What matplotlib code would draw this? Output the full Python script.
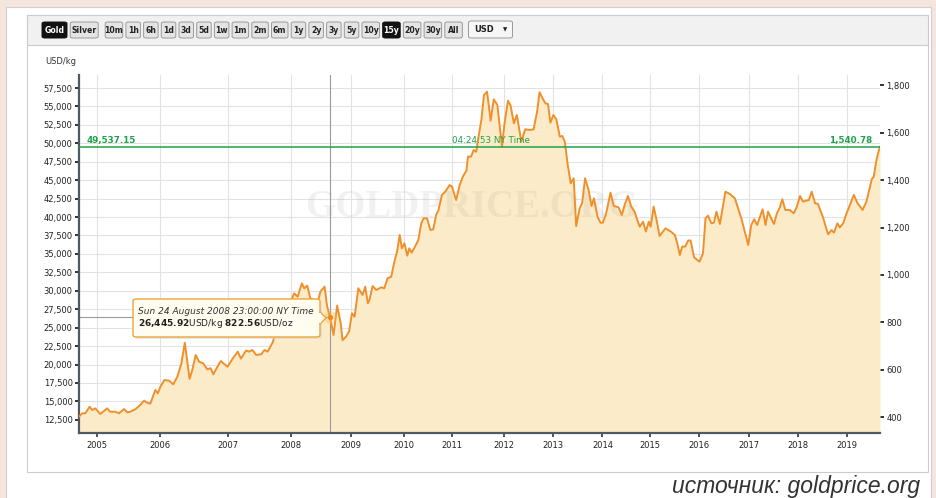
import numpy as np
import matplotlib
matplotlib.use("Agg")
import matplotlib.pyplot as plt
from matplotlib.patches import Rectangle, FancyBboxPatch, Polygon

# gold price, USD/kg, x in decimal years
dates = [2004.71, 2004.76, 2004.81, 2004.88, 2004.92, 2004.97,
         2005.05, 2005.16, 2005.21, 2005.29, 2005.35, 2005.43, 2005.48, 2005.53, 2005.61, 2005.69,
         2005.75, 2005.80, 2005.85, 2005.93, 2005.97,
         2006.01, 2006.07, 2006.14, 2006.20, 2006.26, 2006.32, 2006.37, 2006.44, 2006.48, 2006.53,
         2006.58, 2006.64, 2006.70, 2006.75, 2006.79, 2006.85, 2006.90,
         2007.00, 2007.08, 2007.16, 2007.21, 2007.29, 2007.34, 2007.39, 2007.45, 2007.53, 2007.58,
         2007.63, 2007.71, 2007.76, 2007.81, 2007.89, 2007.96,
         2008.05, 2008.11, 2008.18, 2008.22, 2008.27, 2008.32, 2008.39, 2008.44, 2008.49, 2008.56,
         2008.60, 2008.65, 2008.71, 2008.77, 2008.83, 2008.86, 2008.92, 2008.97,
         2009.02, 2009.07, 2009.14, 2009.16, 2009.22, 2009.27, 2009.32, 2009.35, 2009.41, 2009.48,
         2009.57, 2009.63, 2009.69, 2009.76, 2009.82, 2009.87, 2009.92, 2009.96,
         2010.01, 2010.07, 2010.11, 2010.16, 2010.23, 2010.30, 2010.36, 2010.41, 2010.48, 2010.55,
         2010.61, 2010.67, 2010.72, 2010.79, 2010.86, 2010.95,
         2011.00, 2011.03, 2011.08, 2011.15, 2011.21, 2011.28, 2011.31, 2011.37, 2011.42, 2011.47,
         2011.51, 2011.57, 2011.62, 2011.68, 2011.75, 2011.81, 2011.88, 2011.97,
         2012.02, 2012.09, 2012.14, 2012.21, 2012.27, 2012.36, 2012.44, 2012.53, 2012.61, 2012.68,
         2012.73, 2012.80, 2012.85, 2012.90, 2012.95,
         2013.01, 2013.07, 2013.14, 2013.19, 2013.24, 2013.30, 2013.36, 2013.42, 2013.47, 2013.54,
         2013.59, 2013.65, 2013.72, 2013.78, 2013.83, 2013.90, 2013.96,
         2014.01, 2014.08, 2014.17, 2014.24, 2014.34, 2014.41, 2014.47, 2014.54, 2014.61, 2014.68,
         2014.75, 2014.79, 2014.86, 2014.92, 2014.98,
         2015.02, 2015.08, 2015.14, 2015.20, 2015.32, 2015.43, 2015.51, 2015.56, 2015.61, 2015.66,
         2015.72, 2015.78, 2015.83, 2015.90,
         2016.01, 2016.08, 2016.13, 2016.18, 2016.25, 2016.30, 2016.35, 2016.42, 2016.53, 2016.62,
         2016.72, 2016.85, 2016.99,
         2017.05, 2017.11, 2017.17, 2017.28, 2017.34, 2017.39, 2017.51, 2017.57, 2017.63, 2017.68,
         2017.74, 2017.83, 2017.91, 2017.97,
         2018.04, 2018.10, 2018.17, 2018.22, 2018.28, 2018.35, 2018.41, 2018.52, 2018.57, 2018.62,
         2018.69, 2018.74, 2018.81, 2018.86, 2018.93,
         2019.00, 2019.07, 2019.15, 2019.22, 2019.33, 2019.41, 2019.46, 2019.52, 2019.56, 2019.62,
         2019.65, 2019.69]
usd_kg = [12930, 13390, 13390, 14280, 13830, 14060,
          13290, 14060, 13600, 13600, 13390, 13970, 13520, 13600, 13930, 14520,
          15100, 14830, 14700, 16550, 16100,
          17000, 17900, 17810, 17320, 18350, 20170, 22960, 18050, 19260, 21300,
          20390, 20170, 19360, 19500, 18680, 19700, 20480,
          19700, 20800, 21750, 20800, 21900, 21750, 21970, 21300, 21400, 21970,
          21750, 23000, 24500, 25600, 27000, 27800,
          29660, 29200, 31010, 30330, 30700, 28980, 28750, 28300, 29890, 30570,
          28000, 26445.92, 24000, 28000, 25590, 23300, 23800, 24500,
          26950, 26490, 30340, 30110, 29430, 30560, 28300, 28750, 30650, 30110,
          30475, 30340, 31690, 31900, 33950, 35300, 37570, 35760,
          36440, 34760, 35760, 35170, 35980, 36890, 39150, 39830, 39830, 38250,
          38340, 40280, 40960, 42990, 43440, 44350,
          44120, 43440, 42310, 44350, 45480, 46290, 48190, 48190, 49090, 48860,
          50680, 53160, 56550, 57000, 53070, 55970, 55190, 49540,
          52710, 55780, 55190, 52710, 53840, 50220, 51900, 51810, 51900, 54290,
          56920, 55970, 55420, 55330, 52800,
          53840, 53250, 50900, 50990, 50220, 47060, 44580, 45260, 38790, 41190,
          41870, 45260, 43670, 41500, 42540, 40050, 39240,
          39240, 40510, 43310, 41500, 41320, 40280, 41640, 42860, 41410, 40730,
          39370, 38690, 39370, 38030, 39370,
          38690, 41410, 39600, 37430, 38470, 38030, 37570, 36440, 34850, 36000,
          36000, 36820, 36820, 34540,
          33950, 35080, 39830, 40190, 39150, 39240, 40730, 39060, 43440, 43130,
          42540, 39830, 36210,
          38920, 39700, 38920, 41050, 38920, 40730, 39060, 40510, 41320, 42410,
          40960, 40960, 40510, 41320,
          42860, 42090, 42230, 42300, 43440, 41870, 41780, 39830, 38690, 37660,
          38240, 37880, 39150, 38600, 39150,
          40510, 41640, 43000, 41960, 40960, 42090, 43440, 45120, 45480, 47830,
          48640, 49537.15]

years = list(range(2005, 2020))
left_ticks = list(range(12500, 57501, 2500))
right_ticks = list(range(400, 1801, 200))
last_kg = 49537.15
last_oz = 1540.78
hover_date = 2008.65
hover_kg = 26445.92
hover_oz = 822.56
KG_PER_OZ = 32.1507466

buttons = ["Gold", "Silver", "10m", "1h", "6h", "1d", "3d", "5d", "1w", "1m", "2m", "6m",
           "1y", "2y", "3y", "5y", "10y", "15y", "20y", "30y", "All"]
active = ["Gold", "15y"]

W, H = 937, 498
fig = plt.figure(figsize=(W / 100, H / 100), dpi=100, facecolor="#f4e6dc")


def box(x, y, w, h):
    # pixel box (top-left origin) -> figure fraction
    return (x / W, 1 - (y + h) / H, w / W, h / H)


def rect(x, y, w, h, **kw):
    l, b, ww, hh = box(x, y, w, h)
    fig.patches.append(Rectangle((l, b), ww, hh, transform=fig.transFigure, zorder=-5, **kw))


# white card + inner panel + toolbar
rect(6, 7, 925, 495, fc="white", ec="#cfcfcf", lw=0.8)
rect(27, 15, 901, 457, fc="white", ec="#cccccc", lw=0.8)
rect(27, 15, 901, 30, fc="#f1f1f1", ec="#cccccc", lw=0.8)

# toolbar buttons
bx = 42
for b in buttons:
    if b == "Gold":
        w = 25
    elif b == "Silver":
        w = 28
    elif len(b) == 3:
        w = 17.5
    else:
        w = 16.5 if "m" in b else 14.5
    on = b in active
    l, bt, ww, hh = box(bx, 22, w, 16)
    fig.patches.append(FancyBboxPatch((l, bt), ww, hh, boxstyle="round,pad=0,rounding_size=0.003",
                                      transform=fig.transFigure, zorder=-4,
                                      fc="#111111" if on else "#e4e4e4",
                                      ec="#111111" if on else "#9a9a9a", lw=0.7))
    fig.text(l + ww / 2, bt + hh / 2, b, ha="center", va="center", fontsize=5.6,
             fontweight="bold", color="white" if on else "#222222")
    bx += w + (7 if b == "Silver" else 3.2)
l, bt, ww, hh = box(bx + 3, 21, 44, 17)
fig.patches.append(FancyBboxPatch((l, bt), ww, hh, boxstyle="round,pad=0,rounding_size=0.003",
                                  transform=fig.transFigure, zorder=-4,
                                  fc="#f6f6f6", ec="#9a9a9a", lw=0.7))
fig.text(l + 0.006, bt + hh / 2, "USD", ha="left", va="center", fontsize=6,
         fontweight="bold", color="#222222")
fig.text(l + ww - 0.008, bt + hh / 2, "▼", ha="center", va="center", fontsize=4, color="#222222")

fig.text(45 / W, 1 - 62 / H, "USD/kg", fontsize=6, color="#333333", va="center")

# main axes; x axis is ordinal (uneven year widths like on the site)
ax = fig.add_axes(box(79, 75, 801, 358))
ax.patch.set_alpha(0)
knot_years = [2004] + years + [2020]
knot_pos = [35.5, 98, 160.5, 228.3, 291.8, 351.5, 404.5, 452.5, 504, 553.3, 602.8,
            650, 699.3, 749, 798.3, 846.7, 895.1]


def fwd(x):
    return np.interp(x, knot_years, knot_pos)


def inv(p):
    return np.interp(p, knot_pos, knot_years)


ax.set_xscale("function", functions=(fwd, inv))
ax.set_xlim(dates[0], dates[-1])
ymin, ymax = 10718, 59263
ax.set_ylim(ymin, ymax)

ax.set_xticks(years)
ax.set_xticklabels([str(y) for y in years])
ax.xaxis.set_minor_locator(matplotlib.ticker.NullLocator())
ax.set_yticks(left_ticks)
ax.set_yticklabels([f"{v:,}" for v in left_ticks])
ax.grid(True, color="#e2e2e2", lw=0.8)
ax.set_axisbelow(True)

ax.fill_between(dates, usd_kg, ymin, color="#fcebc8", lw=0, zorder=1)
ax.text(0.49, 0.63, "GOLDPRICE.ORG", transform=ax.transAxes, ha="center", va="center",
        fontsize=28, fontweight="bold", family="Liberation Serif", color="#888888",
        alpha=0.11, zorder=2)
ax.plot(dates, usd_kg, color="#f0902a", lw=1.4, zorder=3)

# current price line
green = "#1fa34a"
ax.axhline(last_kg, color=green, lw=1.1, zorder=4)
tr = ax.get_yaxis_transform()
ax.text(0.01, last_kg + 250, f"{last_kg:,.2f}", transform=tr, color=green, fontsize=6.3,
        fontweight="bold", va="bottom", zorder=5)
ax.text(0.466, last_kg + 250, "04:24:53 NY Time", transform=tr, color=green, fontsize=6.3,
        va="bottom", zorder=5)
ax.text(0.99, last_kg + 250, f"{last_oz:,.2f}", transform=tr, color=green, fontsize=6.3,
        fontweight="bold", va="bottom", ha="right", zorder=5)

# crosshair + hover point
ax.axvline(hover_date, color="#9a9a9a", lw=0.8, zorder=2)
ax.plot([dates[0], hover_date], [hover_kg, hover_kg], color="#9a9a9a", lw=0.8, zorder=2)
ax.scatter([hover_date], [hover_kg], s=90, color="#f5b84a", alpha=0.35, lw=0, zorder=5)
ax.scatter([hover_date], [hover_kg], s=14, color="#ea8a1e", lw=0, zorder=6)

for s in ("top", "right"):
    ax.spines[s].set_visible(False)
for s in ("left", "bottom"):
    ax.spines[s].set_color("#4f5b60")
    ax.spines[s].set_linewidth(1.6)
ax.tick_params(axis="y", length=3, width=1.4, color="#333333", labelsize=6, pad=1.5,
               labelcolor="#222222")
ax.tick_params(axis="x", length=3, width=1.2, color="#333333", labelsize=6, pad=3,
               labelcolor="#222222")

sec = ax.secondary_yaxis("right", functions=(lambda v: v / KG_PER_OZ, lambda v: v * KG_PER_OZ))
sec.set_yticks(right_ticks)
sec.set_yticklabels([f"{v:,}" for v in right_ticks])
sec.spines["right"].set_visible(False)
sec.tick_params(length=3, width=1.4, color="#333333", labelsize=6, pad=1.5, labelcolor="#222222")

# tooltip
l, bt, ww, hh = box(133, 299, 187, 38)
fig.patches.append(FancyBboxPatch((l + 0.002, bt - 0.004), ww, hh,
                                  boxstyle="round,pad=0,rounding_size=0.004", zorder=5,
                                  transform=fig.transFigure, fc="#d8d8d8", ec="none", alpha=0.6))
fig.patches.append(FancyBboxPatch((l, bt), ww, hh, boxstyle="round,pad=0,rounding_size=0.004",
                                  transform=fig.transFigure, fc="#fffcf0", ec="#f0a33a", lw=1.0,
                                  zorder=6))
tip = Polygon([(320 / W, 1 - 312 / H), (326 / W, 1 - 318 / H), (320 / W, 1 - 324 / H)],
              closed=True, transform=fig.transFigure, fc="#fffcf0", ec="#f0a33a", lw=1.0, zorder=6)
fig.patches.append(tip)
fig.patches.append(Rectangle((319 / W, 1 - 323 / H), 1.6 / W, 10 / H, transform=fig.transFigure,
                             fc="#fffcf0", ec="none", zorder=7))
fig.text(138 / W, 1 - 311 / H, "Sun 24 August 2008 23:00:00 NY Time", fontsize=6.5,
         style="italic", color="#333333", va="center", zorder=8)
fig.text(138 / W, 1 - 323.5 / H,
         rf"$\mathbf{{{hover_kg:,.2f}}}$USD/kg $\mathbf{{{hover_oz:,.2f}}}$USD/oz".replace(",", "{,}"),
         fontsize=6.5, color="#222222", va="center", zorder=8)

fig.text(920 / W, 1 - 486 / H, "источник: goldprice.org", ha="right", va="center",
         fontsize=16.5, style="italic", family="Liberation Sans", color="#333333")

fig.savefig("out.png", dpi=100, facecolor=fig.get_facecolor())
